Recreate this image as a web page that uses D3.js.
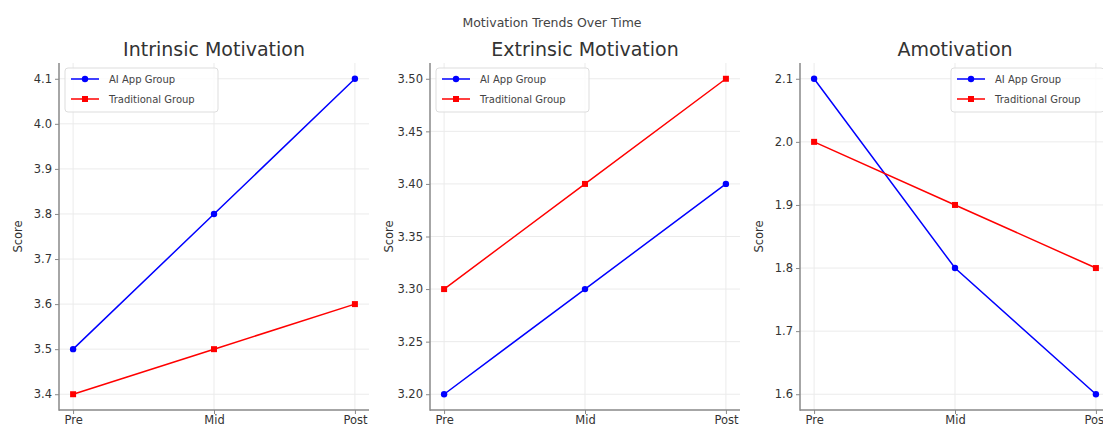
<!DOCTYPE html>
<html><head><meta charset="utf-8">
<script src="https://cdn.jsdelivr.net/npm/d3@7"></script>
<style>
body{margin:0;background:#fff;}
text{font-family:"DejaVu Sans",sans-serif;}
</style></head>
<body><svg id="c" width="1103" height="428"></svg>
<script>
const stages = ["Pre","Mid","Post"];
const panelTitles = ["Intrinsic Motivation","Extrinsic Motivation","Amotivation"];
const aiApp = [[3.5,3.8,4.1],[3.2,3.3,3.4],[2.1,1.8,1.6]];
const traditional = [[3.4,3.5,3.6],[3.3,3.4,3.5],[2.0,1.9,1.8]];
const yTicks = [[3.4,3.5,3.6,3.7,3.8,3.9,4.0,4.1],[3.20,3.25,3.30,3.35,3.40,3.45,3.50],[1.6,1.7,1.8,1.9,2.0,2.1]];
const yFormats = [".1f",".2f",".1f"];
const seriesNames = ["AI App Group","Traditional Group"];
const legendPos = ["left","left","right"];

(function(){
const svg = d3.select("#c");
const panelsLeft = [59,430,800];
const pw = 310, plotTop = 63, plotBottom = 410;
const textColor = "#333";

svg.append("text").attr("x",552).attr("y",27).attr("text-anchor","middle")
  .attr("font-size",12.5).attr("fill","#444").text("Motivation Trends Over Time");

panelsLeft.forEach((left,i)=>{
  const all = aiApp[i].concat(traditional[i]);
  const mn = d3.min(all), mx = d3.max(all), pad = (mx-mn)*0.05;
  const x = d3.scaleLinear().domain([-0.1,2.1]).range([left,left+pw]);
  const y = d3.scaleLinear().domain([mn-pad,mx+pad]).range([plotBottom,plotTop]);
  const g = svg.append("g");
  g.selectAll(".gy").data(yTicks[i]).enter().append("line")
    .attr("x1",left).attr("x2",left+pw).attr("y1",d=>y(d)).attr("y2",d=>y(d))
    .attr("stroke","#ebebeb").attr("stroke-width",1);
  g.selectAll(".gx").data([0,1,2]).enter().append("line")
    .attr("x1",d=>x(d)).attr("x2",d=>x(d)).attr("y1",plotTop).attr("y2",plotBottom)
    .attr("stroke","#ebebeb").attr("stroke-width",1);
  const ya = d3.axisLeft(y).tickValues(yTicks[i]).tickFormat(d3.format(yFormats[i])).tickSize(4).tickPadding(3);
  const yg = g.append("g").attr("transform",`translate(${left},0)`).call(ya);
  const xa = d3.axisBottom(x).tickValues([0,1,2]).tickFormat(d=>stages[d]).tickSize(4).tickPadding(2);
  const xg = g.append("g").attr("transform",`translate(0,${plotBottom})`).call(xa);
  [yg,xg].forEach(a=>{
    a.select(".domain").remove();
    a.selectAll("line").attr("stroke","#888");
    a.selectAll("text").attr("font-size",11.5).attr("fill",textColor).attr("font-family","DejaVu Sans");
  });
  g.append("line").attr("x1",left).attr("x2",left).attr("y1",plotTop).attr("y2",plotBottom+0.75).attr("stroke","#888").attr("stroke-width",1.5);
  g.append("line").attr("x1",left).attr("x2",left+pw).attr("y1",plotBottom).attr("y2",plotBottom).attr("stroke","#888").attr("stroke-width",1.5);
  g.append("text").attr("transform",`translate(${left-37},${(plotTop+plotBottom)/2}) rotate(-90)`)
    .attr("text-anchor","middle").attr("font-size",11.5).attr("fill",textColor).text("Score");
  g.append("text").attr("x",left+pw/2).attr("y",56).attr("text-anchor","middle")
    .attr("font-size",19).attr("fill",textColor).text(panelTitles[i]);
  const line = d3.line().x((d,j)=>x(j)).y(d=>y(d));
  const ser = [{v:aiApp[i],c:"#0000ff",m:"circle"},{v:traditional[i],c:"#ff0000",m:"square"}];
  ser.forEach(s=>{
    g.append("path").attr("d",line(s.v)).attr("fill","none").attr("stroke",s.c).attr("stroke-width",1.5);
    if(s.m==="circle"){
      g.selectAll(null).data(s.v).enter().append("circle").attr("cx",(d,j)=>x(j)).attr("cy",d=>y(d)).attr("r",3.2).attr("fill",s.c);
    } else {
      g.selectAll(null).data(s.v).enter().append("rect").attr("x",(d,j)=>x(j)-3).attr("y",d=>y(d)-3).attr("width",6).attr("height",6).attr("fill",s.c);
    }
  });
  const lw = 153, lh = 44;
  const lx = legendPos[i]==="left" ? left+6 : left+pw-6-lw;
  const ly = 68;
  const lg = g.append("g").attr("transform",`translate(${lx},${ly})`);
  lg.append("rect").attr("width",lw).attr("height",lh).attr("rx",3).attr("fill","#fff").attr("fill-opacity",0.8).attr("stroke","#ddd");
  ser.forEach((s,k)=>{
    const yy = 11+k*20;
    lg.append("line").attr("x1",6).attr("x2",34).attr("y1",yy).attr("y2",yy).attr("stroke",s.c).attr("stroke-width",1.5);
    if(s.m==="circle") lg.append("circle").attr("cx",20).attr("cy",yy).attr("r",3.2).attr("fill",s.c);
    else lg.append("rect").attr("x",17).attr("y",yy-3).attr("width",6).attr("height",6).attr("fill",s.c);
    lg.append("text").attr("x",44).attr("y",yy+3.5).attr("font-size",10).attr("fill","#444").text(seriesNames[k]);
  });
});
})();
</script></body></html>
